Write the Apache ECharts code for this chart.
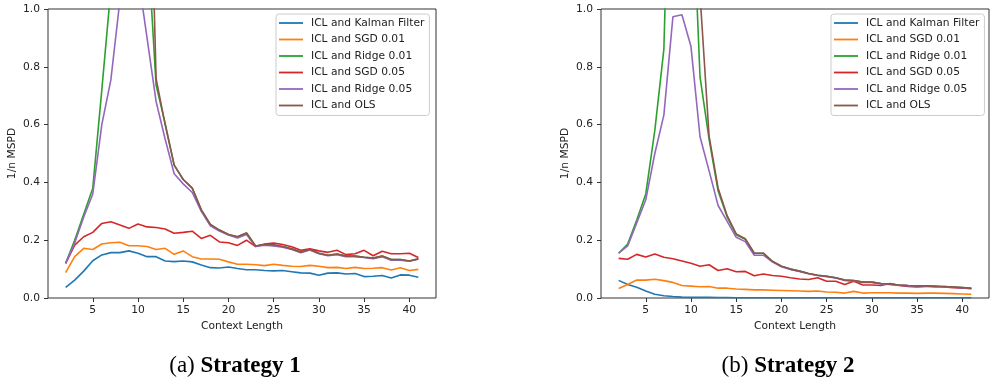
<!DOCTYPE html>
<html>
<head>
<meta charset="utf-8">
<script src="https://cdn.jsdelivr.net/npm/echarts@6/dist/echarts.min.js"></script>
<style>
  html, body { margin: 0; padding: 0; background: #fff; }
  #chart { width: 990px; height: 381px; }
</style>
</head>
<body>
<div id="chart"></div>
<script>
// context lengths on the x axis
const contextLength = [2, 3, 4, 5, 6, 7, 8, 9, 10, 11,
  12, 13, 14, 15, 16, 17, 18, 19, 20, 21,
  22, 23, 24, 25, 26, 27, 28, 29, 30, 31,
  32, 33, 34, 35, 36, 37, 38, 39, 40, 41];

const xTicks = [5, 10, 15, 20, 25, 30, 35, 40];

const seriesNames = ['ICL and Kalman Filter', 'ICL and SGD 0.01', 'ICL and Ridge 0.01',
  'ICL and SGD 0.05', 'ICL and Ridge 0.05', 'ICL and OLS'];

const panelCaptions = ['(a) ', 'Strategy 1', '(b) ', 'Strategy 2'];

// Strategy 1 (left panel)
const kalman1 = [0.037, 0.062, 0.093, 0.129, 0.149, 0.157, 0.157, 0.163, 0.155, 0.143,
  0.143, 0.128, 0.126, 0.128, 0.125, 0.114, 0.105, 0.104, 0.107, 0.102,
  0.098, 0.098, 0.095, 0.094, 0.095, 0.091, 0.087, 0.086, 0.079, 0.086,
  0.087, 0.083, 0.085, 0.074, 0.075, 0.078, 0.069, 0.080, 0.079, 0.072];
const sgd001_1 = [0.088, 0.143, 0.172, 0.168, 0.187, 0.191, 0.193, 0.181, 0.181, 0.178,
  0.168, 0.172, 0.151, 0.163, 0.143, 0.135, 0.135, 0.134, 0.125, 0.117,
  0.117, 0.115, 0.112, 0.117, 0.113, 0.110, 0.109, 0.113, 0.110, 0.105,
  0.106, 0.102, 0.106, 0.102, 0.103, 0.105, 0.097, 0.105, 0.095, 0.099];
const ridge001_1 = [0.12, 0.20, 0.29, 0.38, 0.72, 1.07, 3.0, 5.0, 4.0, 1.27,
  0.737, 0.605, 0.46, 0.41, 0.38, 0.305, 0.255, 0.235, 0.22, 0.212,
  0.225, 0.18, 0.185, 0.182, 0.178, 0.17, 0.16, 0.168, 0.155, 0.148,
  0.152, 0.145, 0.145, 0.141, 0.138, 0.145, 0.133, 0.133, 0.128, 0.136];
const sgd005_1 = [0.12, 0.183, 0.212, 0.227, 0.258, 0.264, 0.253, 0.241, 0.256, 0.246,
  0.244, 0.239, 0.224, 0.227, 0.231, 0.206, 0.217, 0.194, 0.191, 0.182,
  0.20, 0.178, 0.187, 0.19, 0.185, 0.177, 0.165, 0.17, 0.163, 0.158,
  0.165, 0.15, 0.153, 0.165, 0.146, 0.162, 0.153, 0.153, 0.155, 0.14];
const ridge005_1 = [0.12, 0.19, 0.28, 0.36, 0.60, 0.755, 1.03, 1.4, 1.12, 0.90,
  0.68, 0.55, 0.43, 0.395, 0.365, 0.30, 0.25, 0.232, 0.218, 0.208,
  0.22, 0.178, 0.183, 0.18, 0.176, 0.168, 0.157, 0.166, 0.153, 0.146,
  0.15, 0.143, 0.143, 0.14, 0.136, 0.143, 0.131, 0.131, 0.127, 0.134];
const ols_1 = [1.3, 1.6, 2.0, 2.5, 3.0, 3.5, 4.0, 4.5, 5.0, 1.96,
  0.76, 0.60, 0.46, 0.41, 0.38, 0.305, 0.255, 0.235, 0.22, 0.212,
  0.225, 0.18, 0.185, 0.184, 0.178, 0.17, 0.158, 0.168, 0.155, 0.148,
  0.152, 0.145, 0.145, 0.141, 0.138, 0.145, 0.133, 0.133, 0.128, 0.136];

// Strategy 2 (right panel)
const kalman2 = [0.061, 0.047, 0.037, 0.024, 0.013, 0.008, 0.005, 0.003, 0.002, 0.002,
  0.002, 0.0015, 0.0015, 0.001, 0.001, 0.001, 0.001, 0.001, 0.001, 0.001,
  0.001, 0.001, 0.001, 0.001, 0.001, 0.001, 0.001, 0.001, 0.001, 0.001,
  0.001, 0.001, 0.001, 0.001, 0.001, 0.001, 0.001, 0.001, 0.001, 0.001];
const sgd001_2 = [0.033, 0.047, 0.062, 0.062, 0.065, 0.060, 0.054, 0.043, 0.041, 0.039,
  0.040, 0.034, 0.034, 0.031, 0.030, 0.028, 0.028, 0.027, 0.026, 0.025,
  0.024, 0.023, 0.024, 0.021, 0.020, 0.017, 0.023, 0.017, 0.018, 0.018,
  0.018, 0.017, 0.017, 0.016, 0.017, 0.017, 0.016, 0.015, 0.014, 0.013];
const ridge001_2 = [0.155, 0.187, 0.27, 0.36, 0.58, 0.86, 2.0, 3.0, 1.52, 0.765,
  0.55, 0.37, 0.28, 0.219, 0.203, 0.155, 0.155, 0.126, 0.11, 0.10,
  0.093, 0.085, 0.079, 0.075, 0.07, 0.062, 0.06, 0.055, 0.055, 0.05,
  0.048, 0.045, 0.043, 0.042, 0.042, 0.04, 0.04, 0.038, 0.036, 0.034];
const sgd005_2 = [0.137, 0.134, 0.151, 0.142, 0.152, 0.141, 0.136, 0.128, 0.12, 0.11,
  0.115, 0.095, 0.101, 0.091, 0.092, 0.077, 0.083, 0.078, 0.075, 0.07,
  0.066, 0.064, 0.07, 0.058, 0.058, 0.047, 0.058, 0.045, 0.045, 0.043,
  0.05, 0.043, 0.04, 0.038, 0.04, 0.041, 0.038, 0.036, 0.035, 0.032];
const ridge005_2 = [0.155, 0.18, 0.26, 0.34, 0.50, 0.633, 0.973, 0.98, 0.87, 0.558,
  0.44, 0.32, 0.265, 0.21, 0.195, 0.148, 0.148, 0.125, 0.108, 0.099,
  0.092, 0.084, 0.078, 0.074, 0.069, 0.061, 0.059, 0.054, 0.054, 0.049,
  0.047, 0.044, 0.042, 0.041, 0.041, 0.039, 0.039, 0.037, 0.035, 0.033];
const ols_2 = [1.5, 2.0, 2.5, 3.0, 3.5, 4.0, 4.5, 5.0, 4.0, 1.05,
  0.56, 0.38, 0.285, 0.222, 0.205, 0.155, 0.155, 0.127, 0.11, 0.10,
  0.093, 0.085, 0.079, 0.075, 0.07, 0.062, 0.06, 0.055, 0.055, 0.05,
  0.048, 0.045, 0.043, 0.042, 0.042, 0.04, 0.04, 0.038, 0.036, 0.034];

const panels = [
  [kalman1, sgd001_1, ridge001_1, sgd005_1, ridge005_1, ols_1],
  [kalman2, sgd001_2, ridge001_2, sgd005_2, ridge005_2, ols_2]
];

const palette = ['#1f77b4', '#ff7f0e', '#2ca02c', '#d62728', '#9467bd', '#8c564b'];
const font = 'DejaVu Sans';
const fs = 10.7;
const ink = '#222';

const gridLefts = [48, 601];

const chart = echarts.init(document.getElementById('chart'), null, { renderer: 'canvas' });

const series = [];
panels.forEach((panel, p) => {
  panel.forEach((values, i) => {
    series.push({
      name: seriesNames[i],
      type: 'line',
      xAxisIndex: p,
      yAxisIndex: p,
      data: contextLength.map((x, k) => [x, values[k]]),
      symbol: 'none',
      clip: true,
      color: palette[i],
      lineStyle: { color: palette[i], width: 1.6 },
      emphasis: { disabled: true },
      animation: false
    });
  });
});

const option = {
  animation: false,
  color: palette,
  textStyle: { fontFamily: font },
  grid: gridLefts.map(left => ({
    left: left, top: 9, width: 388, height: 289,
    show: true, borderColor: '#333', borderWidth: 1, backgroundColor: 'transparent'
  })),
  xAxis: gridLefts.map((_, p) => ({
    type: 'value',
    gridIndex: p,
    min: 0.05,
    max: 42.95,
    name: 'Context Length',
    nameLocation: 'middle',
    nameGap: 21,
    nameTextStyle: { color: ink, fontSize: fs, fontFamily: font },
    axisLine: { show: false },
    axisTick: { show: true, length: 4, customValues: xTicks, lineStyle: { color: '#333' } },
    axisLabel: { customValues: xTicks, color: ink, fontSize: fs, fontFamily: font, margin: 7 },
    splitLine: { show: false }
  })),
  yAxis: gridLefts.map((_, p) => ({
    type: 'value',
    gridIndex: p,
    min: 0,
    max: 1,
    interval: 0.2,
    name: '1/n MSPD',
    nameLocation: 'middle',
    nameGap: 30,
    nameTextStyle: { color: ink, fontSize: fs, fontFamily: font },
    axisLine: { show: false },
    axisTick: { show: true, length: 4, lineStyle: { color: '#333' } },
    axisLabel: {
      color: ink, fontSize: fs, fontFamily: font, margin: 8,
      formatter: v => v.toFixed(1)
    },
    splitLine: { show: false }
  })),
  legend: [276, 831].map(left => ({
    left: left,
    top: 14,
    orient: 'vertical',
    data: seriesNames,
    icon: 'rect',
    itemWidth: 24,
    itemHeight: 1.8,
    itemGap: 4.5,
    padding: [3, 5, 4, 3],
    backgroundColor: 'rgba(255,255,255,0.8)',
    borderColor: '#cccccc',
    borderWidth: 1,
    borderRadius: 3,
    selectedMode: false,
    textStyle: { color: ink, fontSize: fs, fontFamily: font, lineHeight: 12, padding: [0, 0, 0, 3] }
  })),
  graphic: [
    { x: 235, y: 366, caption: 0 },
    { x: 788, y: 366, caption: 2 }
  ].map(c => ({
    type: 'text',
    x: c.x,
    y: c.y,
    silent: true,
    style: {
      text: '{n|' + panelCaptions[c.caption] + '}{b|' + panelCaptions[c.caption + 1] + '}',
      align: 'center',
      verticalAlign: 'middle',
      rich: {
        n: { fontFamily: 'Liberation Serif', fontSize: 23, fill: '#000' },
        b: { fontFamily: 'Liberation Serif', fontSize: 23, fontWeight: 'bold', fill: '#000' }
      }
    }
  })),
  series: series
};

chart.setOption(option);
</script>
</body>
</html>
